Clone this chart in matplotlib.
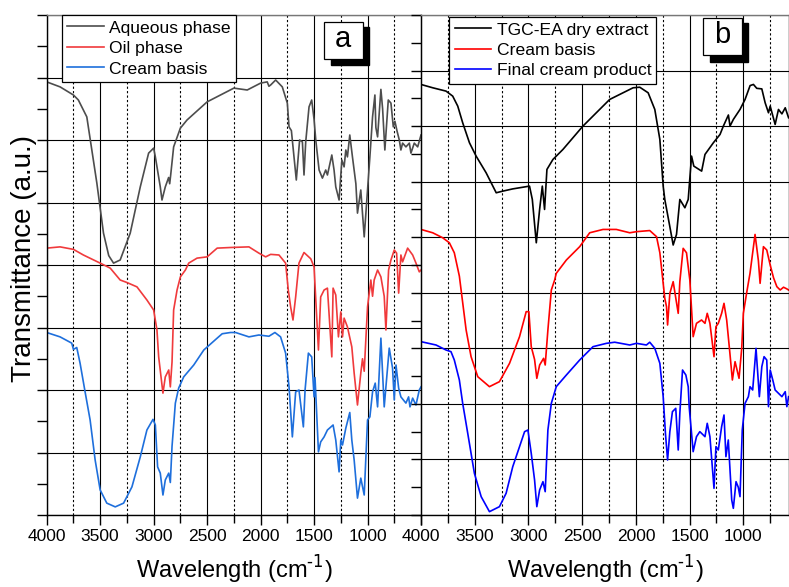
import matplotlib
matplotlib.use("Agg")
import matplotlib.pyplot as plt
from matplotlib.patches import Rectangle
from matplotlib.ticker import MultipleLocator, NullFormatter, FuncFormatter

plt.rcParams['font.family'] = ['Liberation Sans', 'DejaVu Sans']

# ---------------- Panel a data ----------------
aq_w = [4000, 3875, 3750, 3704, 3625, 3531, 3469, 3420, 3375, 3313, 3219, 3125, 3047, 3000, 2984,
        2938, 2922, 2891, 2860, 2850, 2840, 2813, 2750, 2688, 2500, 2250, 2125, 2000, 1938, 1922,
        1906, 1859, 1797, 1750, 1734, 1712, 1666, 1635, 1609, 1594, 1578, 1547, 1522, 1500, 1484,
        1453, 1422, 1391, 1375, 1334, 1313, 1297, 1266, 1240, 1219, 1203, 1188, 1166, 1141, 1109,
        1094, 1063, 1031, 1000, 978, 953, 931, 922, 906, 875, 859, 838, 806, 781, 759, 744, 725,
        703, 688, 672, 641, 609, 594, 563, 531, 500]
aq_v = [6.93, 6.85, 6.72, 6.64, 6.37, 5.31, 4.51, 4.15, 4.03, 4.08, 4.51, 5.25, 5.79, 5.87, 5.73,
        5.25, 5.04, 5.25, 5.40, 5.30, 5.45, 5.89, 6.19, 6.32, 6.61, 6.83, 6.80, 6.91, 6.93, 6.86,
        6.88, 6.96, 6.85, 6.59, 6.21, 6.15, 5.36, 6.00, 5.97, 5.44, 5.97, 6.53, 6.64, 6.33, 6.00,
        5.52, 5.39, 5.52, 5.44, 5.76, 5.52, 5.25, 5.04, 5.68, 5.57, 5.84, 5.73, 6.08, 5.73, 5.30,
        4.83, 5.20, 4.45, 5.20, 5.73, 6.37, 6.72, 6.20, 6.05, 6.81, 6.50, 5.84, 6.64, 6.59, 6.21,
        6.30, 6.15, 6.00, 5.84, 5.95, 5.89, 5.95, 5.79, 5.95, 5.89, 6.08]

oil_w = [4000, 3875, 3750, 3657, 3500, 3406, 3313, 3250, 3156, 3063, 3000, 2969, 2953, 2931, 2913,
         2891, 2859, 2844, 2828, 2813, 2781, 2750, 2703, 2672, 2594, 2500, 2406, 2281, 2109, 2016,
         1953, 1906, 1828, 1766, 1741, 1719, 1697, 1672, 1641, 1594, 1531, 1500, 1459, 1438, 1406,
         1375, 1334, 1322, 1297, 1272, 1250, 1234, 1219, 1188, 1147, 1125, 1094, 1063, 1047, 1031,
         1000, 969, 953, 938, 906, 875, 844, 828, 803, 781, 750, 728, 709, 688, 672, 625, 578, 547,
         516, 500]
oil_v = [4.27, 4.29, 4.25, 4.16, 4.03, 3.95, 3.76, 3.72, 3.65, 3.44, 3.28, 2.96, 2.53, 2.21, 1.95,
         2.21, 2.32, 2.05, 2.45, 3.28, 3.60, 3.81, 3.92, 4.03, 4.11, 4.13, 4.27, 4.28, 4.29, 4.19,
         4.13, 4.17, 4.16, 4.03, 3.60, 3.33, 3.12, 3.49, 4.03, 4.20, 4.10, 3.97, 2.64, 3.49, 3.60,
         3.63, 2.53, 3.63, 3.52, 2.85, 3.25, 2.85, 3.15, 3.01, 2.69, 2.27, 1.76, 2.27, 2.50, 2.30,
         3.33, 3.76, 3.50, 3.76, 3.92, 3.81, 3.50, 2.96, 3.92, 4.08, 4.24, 4.19, 3.55, 4.16, 4.05,
         4.27, 4.16, 4.03, 3.89, 3.92]

cba_w = [4000, 3875, 3766, 3750, 3719, 3688, 3641, 3594, 3547, 3500, 3438, 3359, 3281, 3203, 3125,
         3063, 3006, 2984, 2963, 2938, 2913, 2891, 2859, 2844, 2828, 2797, 2766, 2719, 2625, 2531,
         2406, 2359, 2281, 2234, 2109, 2016, 1922, 1866, 1813, 1766, 1734, 1703, 1672, 1641, 1600,
         1584, 1553, 1522, 1500, 1491, 1459, 1438, 1406, 1375, 1322, 1297, 1266, 1250, 1234, 1203,
         1166, 1147, 1125, 1094, 1063, 1031, 1000, 978, 953, 928, 906, 875, 844, 797, 766, 750,
         734, 709, 688, 641, 616, 603, 578, 547, 516, 500]
cba_v = [2.92, 2.85, 2.75, 2.65, 2.68, 2.43, 1.97, 1.52, 0.88, 0.40, 0.19, 0.13, 0.19, 0.45, 0.93,
         1.36, 1.53, 1.44, 0.77, 0.67, 0.32, 0.56, 0.67, 0.52, 1.10, 1.79, 2.03, 2.21, 2.40, 2.64,
         2.83, 2.90, 2.92, 2.92, 2.85, 2.88, 2.86, 2.92, 2.85, 2.59, 2.05, 1.25, 1.97, 2.00, 1.41,
         2.00, 2.59, 2.53, 1.89, 2.20, 1.01, 1.17, 1.25, 1.36, 1.44, 1.20, 0.69, 1.20, 1.12, 1.39,
         1.64, 1.20, 0.88, 0.27, 0.59, 0.32, 1.52, 1.57, 1.97, 2.11, 1.73, 2.83, 1.73, 2.67, 2.35,
         1.84, 2.40, 2.03, 1.89, 1.79, 1.89, 1.73, 1.87, 1.76, 2.00, 2.05]

# ---------------- Panel b data ----------------
tgc_w = [4000, 3891, 3767, 3705, 3658, 3612, 3549, 3487, 3394, 3300, 3238, 3146, 3052, 2990, 2964,
         2927, 2896, 2871, 2850, 2828, 2772, 2679, 2493, 2244, 2026, 1964, 1886, 1824, 1777, 1746,
         1731, 1684, 1653, 1622, 1591, 1544, 1513, 1482, 1461, 1388, 1357, 1279, 1217, 1186, 1139,
         1124, 1093, 1031, 984, 937, 906, 875, 828, 797, 766, 750, 704, 673, 641, 610, 579]
tgc_v = [7.75, 7.69, 7.63, 7.54, 7.36, 7.06, 6.70, 6.46, 6.16, 5.80, 5.83, 5.87, 5.90, 5.92, 5.68,
         4.90, 5.50, 5.92, 5.50, 6.22, 6.40, 6.58, 7.00, 7.48, 7.69, 7.70, 7.60, 7.30, 6.76, 5.92,
         5.68, 5.19, 4.86, 5.05, 5.68, 5.53, 5.68, 6.46, 6.28, 6.19, 6.49, 6.70, 6.85, 7.00, 7.20,
         7.00, 7.12, 7.30, 7.48, 7.73, 7.75, 7.68, 7.67, 7.42, 7.24, 7.36, 7.03, 7.30, 7.22, 7.33,
         7.15]

cbb_w = [4000, 3891, 3798, 3736, 3690, 3643, 3580, 3534, 3472, 3363, 3270, 3176, 3083, 3021, 2996,
         2974, 2943, 2922, 2896, 2859, 2844, 2819, 2787, 2756, 2741, 2647, 2523, 2430, 2306, 2182,
         2057, 1995, 1871, 1808, 1777, 1746, 1731, 1715, 1705, 1684, 1653, 1606, 1591, 1560, 1529,
         1498, 1467, 1436, 1389, 1357, 1336, 1311, 1273, 1255, 1233, 1202, 1180, 1155, 1125, 1102,
         1077, 1040, 1015, 1000, 969, 938, 891, 860, 844, 813, 782, 750, 719, 688, 657, 626, 595, 579]
cbb_v = [5.14, 5.08, 4.99, 4.90, 4.72, 4.30, 3.33, 2.85, 2.49, 2.31, 2.40, 2.73, 3.21, 3.66, 3.66,
         3.03, 2.80, 2.46, 2.70, 2.82, 2.70, 3.33, 4.05, 4.23, 4.35, 4.59, 4.83, 5.08, 5.14, 5.14,
         5.08, 5.10, 5.12, 5.01, 4.72, 4.17, 3.90, 3.75, 3.42, 3.99, 4.20, 3.63, 4.20, 4.80, 4.72,
         4.23, 3.21, 3.45, 3.51, 3.45, 3.63, 3.45, 2.85, 3.39, 3.45, 3.63, 3.81, 3.51, 2.91, 2.43,
         2.76, 2.46, 3.00, 3.63, 4.00, 4.35, 5.05, 4.58, 4.17, 4.83, 4.77, 4.50, 4.27, 4.11, 4.05,
         4.10, 4.07, 4.05]

fin_w = [4000, 3860, 3767, 3721, 3690, 3643, 3612, 3565, 3503, 3440, 3363, 3270, 3208, 3146, 3083,
         3036, 3005, 2974, 2943, 2922, 2896, 2865, 2844, 2819, 2787, 2741, 2647, 2523, 2399, 2274,
         2197, 2057, 1995, 1902, 1871, 1824, 1777, 1746, 1725, 1705, 1684, 1660, 1629, 1606, 1591,
         1566, 1535, 1513, 1504, 1467, 1436, 1405, 1357, 1336, 1311, 1273, 1255, 1233, 1202, 1180,
         1162, 1140, 1108, 1093, 1068, 1047, 1031, 1010, 984, 953, 938, 913, 882, 851, 828, 807,
         782, 766, 750, 726, 704, 641, 610, 595, 579]
fin_v = [3.12, 3.06, 2.97, 2.94, 2.79, 2.43, 2.01, 1.47, 0.75, 0.33, 0.06, 0.15, 0.39, 0.87, 1.23,
         1.50, 1.53, 1.11, 0.63, 0.15, 0.45, 0.60, 0.42, 1.53, 2.01, 2.31, 2.52, 2.79, 3.03, 3.09,
         3.11, 3.06, 3.09, 3.06, 3.11, 3.00, 2.73, 2.13, 1.47, 0.99, 1.50, 1.86, 1.92, 1.17, 1.83,
         2.61, 2.52, 2.31, 1.95, 1.14, 1.41, 1.50, 1.41, 1.65, 1.41, 0.48, 1.23, 1.17, 1.59, 1.80,
         1.05, 1.35, 0.27, 0.12, 0.60, 0.50, 0.33, 1.53, 2.01, 2.13, 2.31, 2.25, 3.00, 2.13, 2.67,
         2.85, 2.79, 1.95, 2.61, 2.43, 2.25, 2.13, 2.22, 1.95, 2.13]

labels_a = ["Aqueous phase", "Oil phase", "Cream basis"]
labels_b = ["TGC-EA dry extract", "Cream basis", "Final cream product"]
colors_a = ["#4d4d4d", "#f03a3c", "#1e6fdc"]
colors_b = ["#000000", "#ff0000", "#0000ff"]
panel_letters = ["a", "b"]

W, H = 789, 587
fig = plt.figure(figsize=(W / 100, H / 100), dpi=100)

def fx(px):
    return px / W

def fy(py):
    return 1 - py / H

ax_a = fig.add_axes([fx(46.7), fy(515), fx(421) - fx(46.7), fy(15) - fy(515)])
ax_b = fig.add_axes([fx(421), fy(515), fx(789) - fx(421), fy(15) - fy(515)])

def xfmt(val, pos):
    if abs(val - 500) < 1:
        return ""
    return "%d" % val

def style(ax, xlim, ylim):
    ax.set_xlim(*xlim)
    ax.set_ylim(*ylim)
    ax.xaxis.set_major_locator(MultipleLocator(500))
    ax.xaxis.set_minor_locator(MultipleLocator(250))
    ax.xaxis.set_major_formatter(FuncFormatter(xfmt))
    ax.yaxis.set_major_locator(MultipleLocator(1))
    ax.yaxis.set_minor_locator(MultipleLocator(0.5))
    ax.yaxis.set_major_formatter(NullFormatter())
    ax.tick_params(axis='x', which='major', direction='out', length=7, width=1,
                   labelsize=12.5, pad=3)
    ax.tick_params(axis='x', which='minor', direction='out', length=6, width=1)
    ax.tick_params(axis='y', which='both', direction='out', length=7, width=1)
    ax.grid(True, which='major', color='black', lw=0.8, ls='-')
    ax.grid(True, which='minor', axis='x', color='black', lw=0.8, ls=(0, (2, 2)))
    for s in ax.spines.values():
        s.set_linewidth(1.0)
        s.set_color('black')
    ax.spines['top'].set_color('#777777')
    ax.set_axisbelow(True)
    ax.set_xlabel("Wavelength (cm$^{\\text{-}1}$)", fontsize=17, labelpad=7)

style(ax_a, (4000, 500), (0, 8))
style(ax_b, (4000, 575), (0, 9))
ax_a.spines['right'].set_visible(False)

for w, v, c, l in zip([aq_w, oil_w, cba_w], [aq_v, oil_v, cba_v], colors_a, labels_a):
    ax_a.plot(w, v, color=c, lw=1.2, label=l)
for w, v, c, l in zip([tgc_w, cbb_w, fin_w], [tgc_v, cbb_v, fin_v], colors_b, labels_b):
    ax_b.plot(w, v, color=c, lw=1.2, label=l)

fig.text(fx(24), fy(259), "Transmittance (a.u.)", rotation=90, ha='center', va='center',
         fontsize=20)

leg_kw = dict(loc='upper left', fontsize=12.6, frameon=True, fancybox=False, framealpha=1,
              edgecolor='black', borderpad=0.3, labelspacing=0.3, handlelength=2.1,
              handletextpad=0.3, borderaxespad=0)
la = ax_a.legend(bbox_to_anchor=(0.041, 1.0), **leg_kw)
lb = ax_b.legend(bbox_to_anchor=(0.077, 0.996), **leg_kw)
for lg in (la, lb):
    lg.get_frame().set_linewidth(0.9)

def letter_box(ax, box, shadow, center, text):
    ax.add_patch(Rectangle((shadow[0], shadow[2]), shadow[1] - shadow[0], shadow[3] - shadow[2],
                           transform=ax.transAxes, facecolor='black', edgecolor='black',
                           zorder=5, clip_on=False))
    ax.add_patch(Rectangle((box[0], box[2]), box[1] - box[0], box[3] - box[2],
                           transform=ax.transAxes, facecolor='white', edgecolor='black',
                           lw=0.9, zorder=6, clip_on=False))
    ax.text(center[0], center[1], text, transform=ax.transAxes, ha='center', va='center',
            fontsize=21, zorder=7)

letter_box(ax_a, (0.740, 0.845, 0.912, 0.986), (0.759, 0.861, 0.900, 0.976), (0.792, 0.952),
           panel_letters[0])
letter_box(ax_b, (0.767, 0.872, 0.920, 0.995), (0.785, 0.889, 0.907, 0.984), (0.819, 0.960),
           panel_letters[1])

fig.savefig("out.png", dpi=100)
